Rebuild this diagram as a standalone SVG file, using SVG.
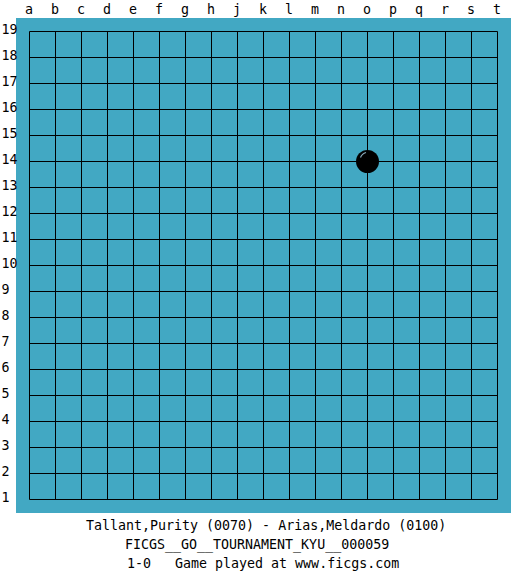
<svg xmlns="http://www.w3.org/2000/svg" width="525" height="575" viewBox="0 0 525 575">
<style>
.lbl{font-family:"DejaVu Sans Mono","Liberation Mono",monospace;font-size:13.3px;fill:#000}
.col{text-anchor:middle}
.grid line{stroke:#000;stroke-width:1}
</style>
<rect x="0" y="0" width="525" height="575" fill="#fff"/>
<g id="board">
<rect x="16" y="18" width="495" height="495" fill="#42a8c3"/>
</g>
<g id="grid" class="grid">
<line x1="29.5" y1="31.5" x2="497.5" y2="31.5"/>
<line x1="29.5" y1="57.5" x2="497.5" y2="57.5"/>
<line x1="29.5" y1="83.5" x2="497.5" y2="83.5"/>
<line x1="29.5" y1="109.5" x2="497.5" y2="109.5"/>
<line x1="29.5" y1="135.5" x2="497.5" y2="135.5"/>
<line x1="29.5" y1="161.5" x2="497.5" y2="161.5"/>
<line x1="29.5" y1="187.5" x2="497.5" y2="187.5"/>
<line x1="29.5" y1="213.5" x2="497.5" y2="213.5"/>
<line x1="29.5" y1="239.5" x2="497.5" y2="239.5"/>
<line x1="29.5" y1="265.5" x2="497.5" y2="265.5"/>
<line x1="29.5" y1="291.5" x2="497.5" y2="291.5"/>
<line x1="29.5" y1="317.5" x2="497.5" y2="317.5"/>
<line x1="29.5" y1="343.5" x2="497.5" y2="343.5"/>
<line x1="29.5" y1="369.5" x2="497.5" y2="369.5"/>
<line x1="29.5" y1="395.5" x2="497.5" y2="395.5"/>
<line x1="29.5" y1="421.5" x2="497.5" y2="421.5"/>
<line x1="29.5" y1="447.5" x2="497.5" y2="447.5"/>
<line x1="29.5" y1="473.5" x2="497.5" y2="473.5"/>
<line x1="29.5" y1="499.5" x2="497.5" y2="499.5"/>
<line x1="29.5" y1="31.5" x2="29.5" y2="499.5"/>
<line x1="55.5" y1="31.5" x2="55.5" y2="499.5"/>
<line x1="81.5" y1="31.5" x2="81.5" y2="499.5"/>
<line x1="107.5" y1="31.5" x2="107.5" y2="499.5"/>
<line x1="133.5" y1="31.5" x2="133.5" y2="499.5"/>
<line x1="159.5" y1="31.5" x2="159.5" y2="499.5"/>
<line x1="185.5" y1="31.5" x2="185.5" y2="499.5"/>
<line x1="211.5" y1="31.5" x2="211.5" y2="499.5"/>
<line x1="237.5" y1="31.5" x2="237.5" y2="499.5"/>
<line x1="263.5" y1="31.5" x2="263.5" y2="499.5"/>
<line x1="289.5" y1="31.5" x2="289.5" y2="499.5"/>
<line x1="315.5" y1="31.5" x2="315.5" y2="499.5"/>
<line x1="341.5" y1="31.5" x2="341.5" y2="499.5"/>
<line x1="367.5" y1="31.5" x2="367.5" y2="499.5"/>
<line x1="393.5" y1="31.5" x2="393.5" y2="499.5"/>
<line x1="419.5" y1="31.5" x2="419.5" y2="499.5"/>
<line x1="445.5" y1="31.5" x2="445.5" y2="499.5"/>
<line x1="471.5" y1="31.5" x2="471.5" y2="499.5"/>
<line x1="497.5" y1="31.5" x2="497.5" y2="499.5"/>
</g>
<g id="col-labels" class="lbl col">
<text x="29" y="14">a</text>
<text x="55" y="14">b</text>
<text x="81" y="14">c</text>
<text x="107" y="14">d</text>
<text x="133" y="14">e</text>
<text x="159" y="14">f</text>
<text x="185" y="14">g</text>
<text x="211" y="14">h</text>
<text x="237" y="14">j</text>
<text x="263" y="14">k</text>
<text x="289" y="14">l</text>
<text x="315" y="14">m</text>
<text x="341" y="14">n</text>
<text x="367" y="14">o</text>
<text x="393" y="14">p</text>
<text x="419" y="14">q</text>
<text x="445" y="14">r</text>
<text x="471" y="14">s</text>
<text x="497" y="14">t</text>
</g>
<g id="row-labels" class="lbl">
<text x="1.5" y="34">19</text>
<text x="1.5" y="60">18</text>
<text x="1.5" y="86">17</text>
<text x="1.5" y="112">16</text>
<text x="1.5" y="138">15</text>
<text x="1.5" y="164">14</text>
<text x="1.5" y="190">13</text>
<text x="1.5" y="216">12</text>
<text x="1.5" y="242">11</text>
<text x="1.5" y="268">10</text>
<text x="1.5" y="294">9</text>
<text x="1.5" y="320">8</text>
<text x="1.5" y="346">7</text>
<text x="1.5" y="372">6</text>
<text x="1.5" y="398">5</text>
<text x="1.5" y="424">4</text>
<text x="1.5" y="450">3</text>
<text x="1.5" y="476">2</text>
<text x="1.5" y="502">1</text>
</g>
<g id="stone-o14">
<circle cx="367.5" cy="161.5" r="11.5" fill="#000"/>
<path d="M360.5 157.5 A8 8 0 0 1 366 152.5" fill="none" stroke="#8ab" stroke-width="1.2"/>
</g>
<g id="caption" class="lbl">
<text x="86" y="530">Tallant,Purity (0070) - Arias,Meldardo (0100)</text>
<text x="125" y="549">FICGS__GO__TOURNAMENT_KYU__000059</text>
<text x="127" y="568" xml:space="preserve">1-0   Game played at www.ficgs.com</text>
</g>
</svg>
